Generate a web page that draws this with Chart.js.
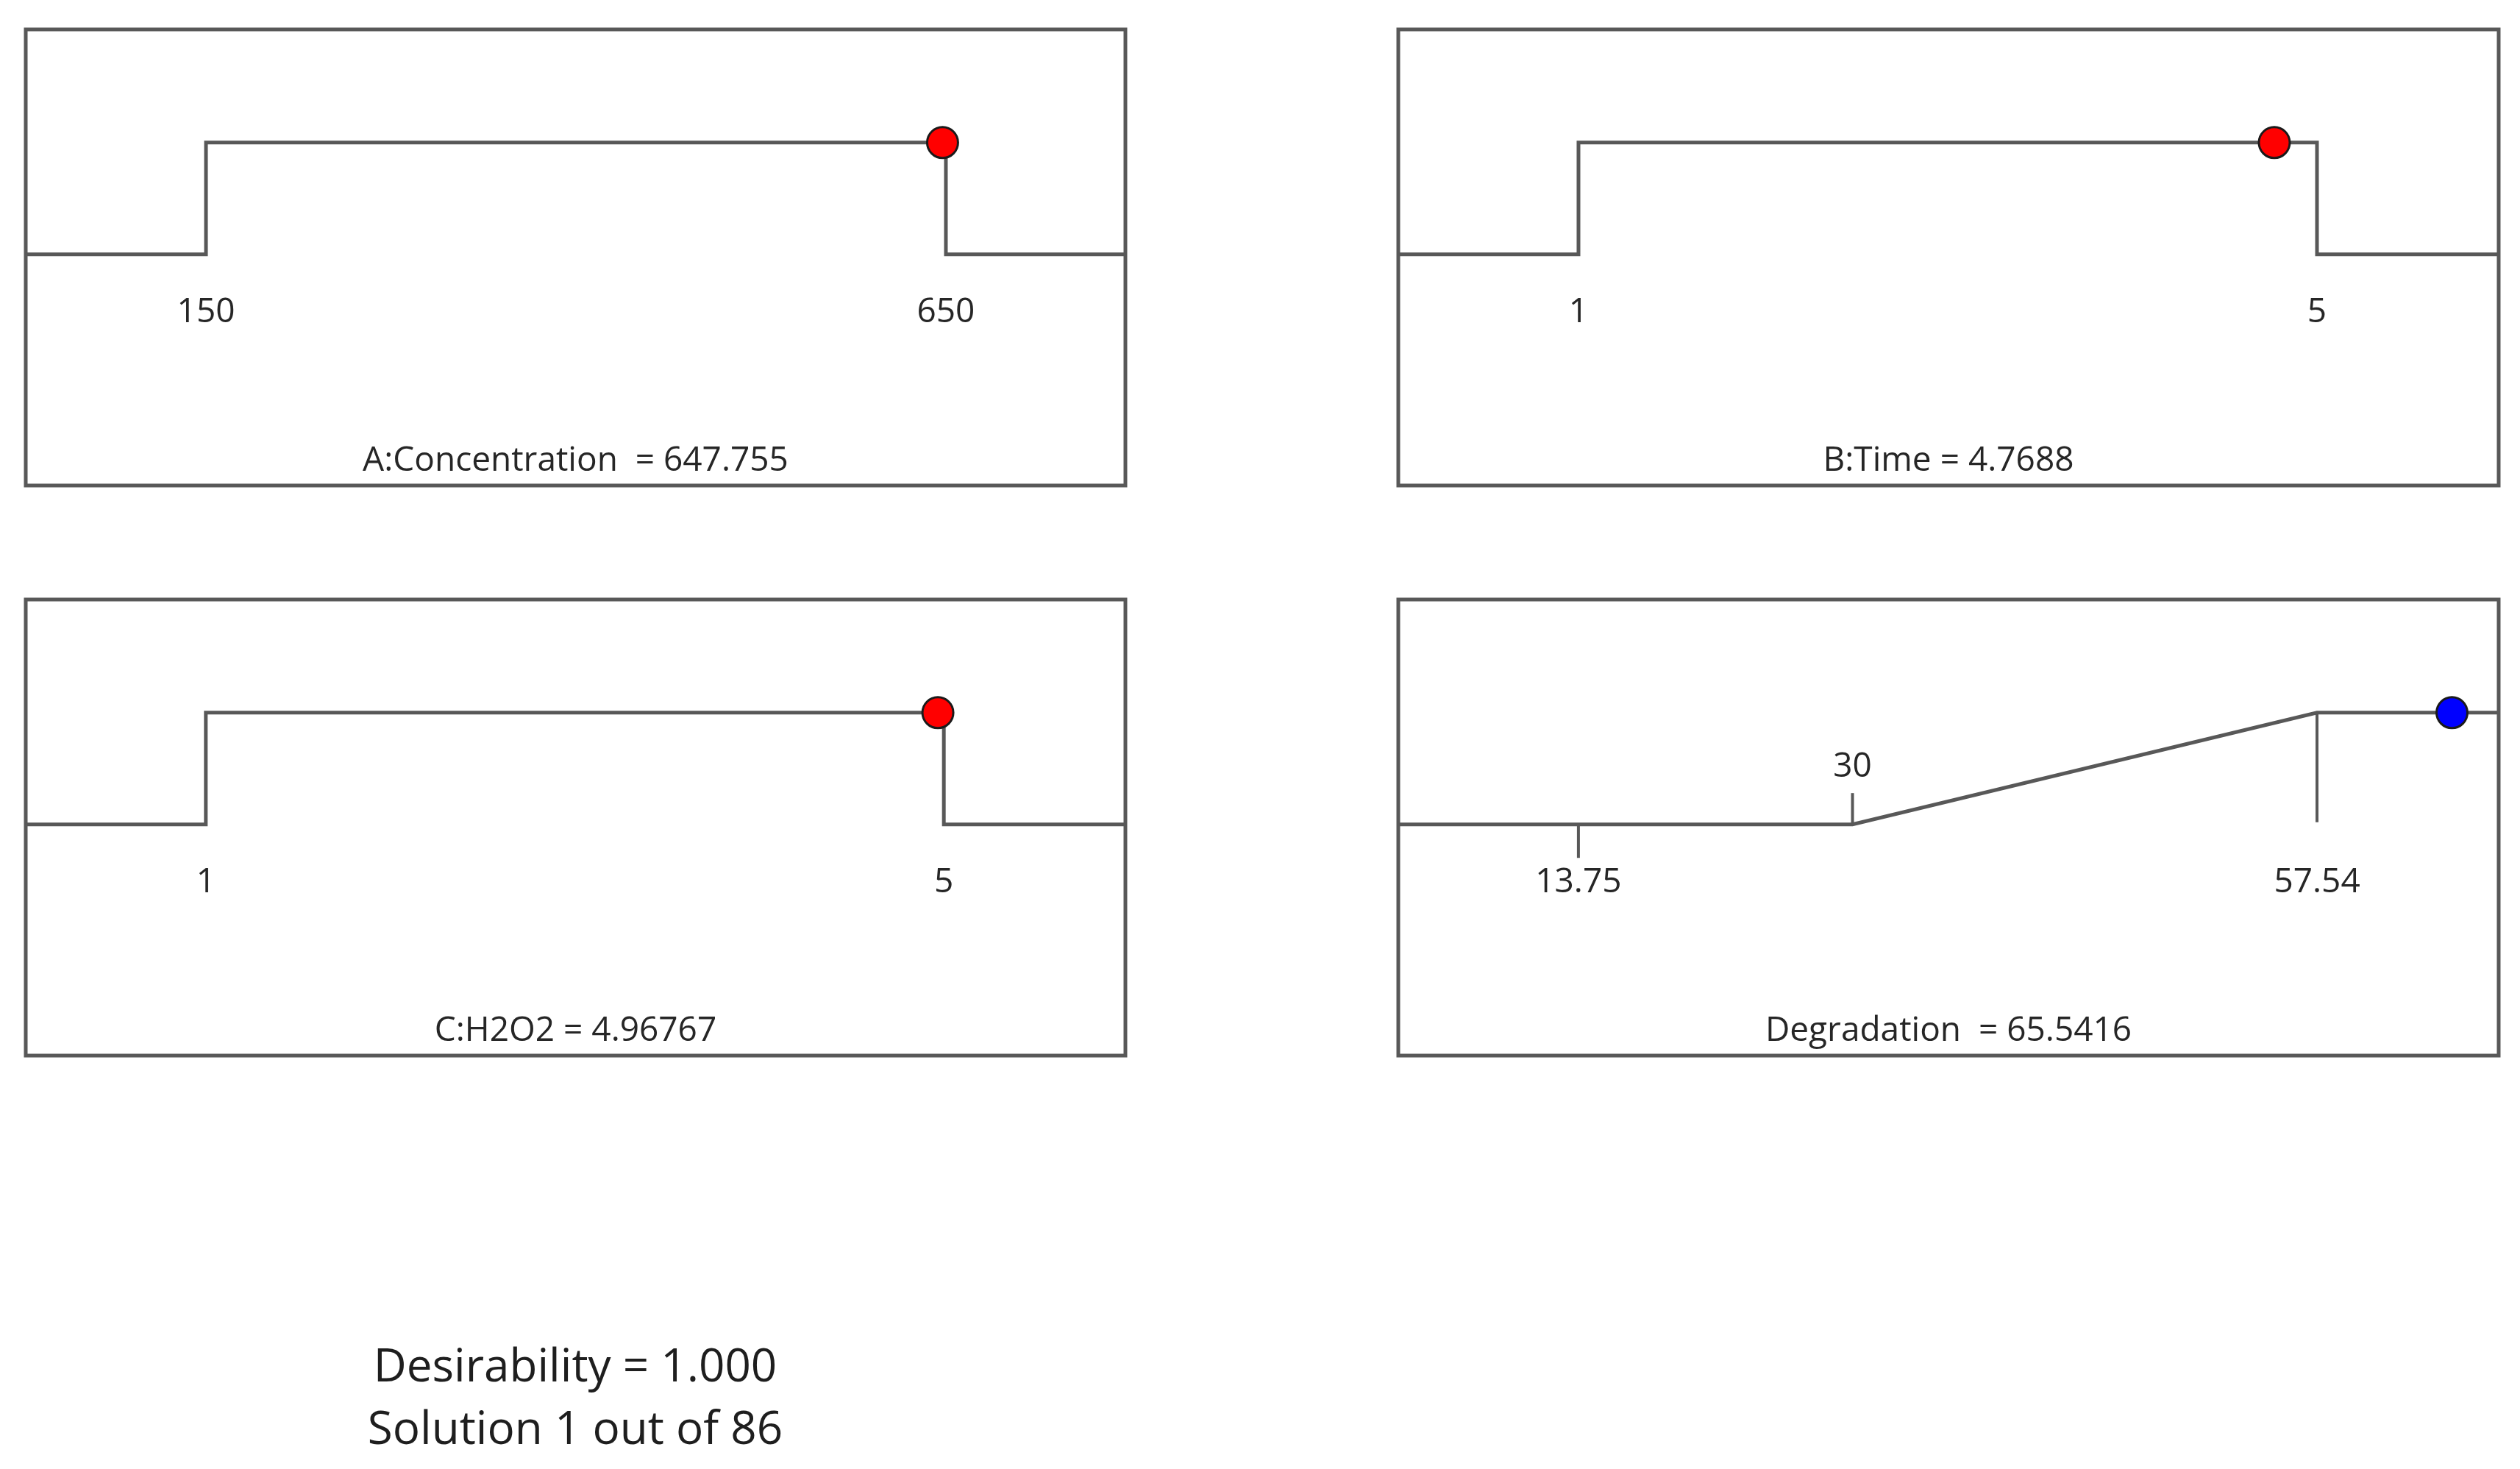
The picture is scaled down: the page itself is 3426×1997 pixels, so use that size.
<!DOCTYPE html>
<html>
<head>
<meta charset="utf-8">
<title>Desirability ramps</title>
<script src="https://cdn.jsdelivr.net/npm/chart.js@4.4.1/dist/chart.umd.min.js"></script>
<style>
    body { margin: 0; background: #ffffff; width: 3426px; height: 1997px; position: relative; overflow: hidden; }
    .panel { position: absolute; }
    .summary {
        position: absolute;
        left: 432px;
        top: 1812px;
        width: 700px;
        text-align: center;
        font-family: "Open Sans", "Noto Sans", sans-serif;
        font-size: 62px;
        line-height: 85px;
        color: #1e1e1e;
    }
</style>
</head>
<body>
<div class="panel" id="panel0"><canvas id="chart0"></canvas></div>
<div class="panel" id="panel1"><canvas id="chart1"></canvas></div>
<div class="panel" id="panel2"><canvas id="chart2"></canvas></div>
<div class="panel" id="panel3"><canvas id="chart3"></canvas></div>
<div class="summary" id="summary"></div>

<script>
// ---- data ----
var panelTitles = ['A:Concentration  = 647.755', 'B:Time = 4.7688', 'C:H2O2 = 4.96767', 'Degradation  = 65.5416'];
var axisMin = [28.2, 0.024, 0.024, 3.07];
var axisMax = [771.3, 5.984, 5.984, 68.31];
var lowLimits = [150, 1, 1, 13.75];
var highLimits = [650, 5, 5, 57.54];
var solutionValues = [647.755, 4.7688, 4.96767, 65.5416];
var solutionDesirability = [1, 1, 1, 1];
var pointColors = ['#ff0000', '#ff0000', '#ff0000', '#0000ff'];

// factor ramps are "in range" boxes: 0 outside, 1 between the limits
var factorCurveY = [0, 0, 1, 1, 0, 0];

// the response (Degradation) is maximised: ramps from the goal up to the high limit
var responseGoal = 30;
var responseCurveY = [0, 0, 1, 1];

// small tick marks on the response panel
var responseTickX = [13.75, 30, 57.54];
var responseTickFrom = [0, 0, 1];
var responseTickTo = [-0.3, 0.28, 0.02];

// tick labels [text, value, height]
var tickLabels = [
    [['150', 150, -0.52], ['650', 650, -0.52]],
    [['1', 1, -0.52], ['5', 5, -0.52]],
    [['1', 1, -0.52], ['5', 5, -0.52]],
    [['13.75', 13.75, -0.52], ['30', 30, 0.51], ['57.54', 57.54, -0.52]]
];
var titleHeight = -1.85;
var yMin = -2.07;
var yMax = 2.013;

var summaryLines = ['Desirability = 1.000', 'Solution 1 out of 86'];

// ---- layout (box edges in page pixels) ----
var boxes = [
    { left: 35, top: 40, right: 1530, bottom: 660 },
    { left: 1901, top: 40, right: 3397, bottom: 660 },
    { left: 35, top: 815, right: 1530, bottom: 1435 },
    { left: 1901, top: 815, right: 3397, bottom: 1435 }
];
var pad = 30;
var lineColor = '#585858';
var textFont = '46px "Open Sans", "Noto Sans", sans-serif';

// draws the frame, the tick labels and the title of each panel
var panelDecor = {
    id: 'panelDecor',
    afterDatasetsDraw: function (chart, args, opts) {
        var ctx = chart.ctx;
        var area = chart.chartArea;
        var xs = chart.scales.x;
        var ys = chart.scales.y;
        ctx.save();
        ctx.strokeStyle = lineColor;
        ctx.lineWidth = 5;
        ctx.strokeRect(area.left, area.top, area.right - area.left, area.bottom - area.top);

        ctx.fillStyle = '#262626';
        ctx.font = textFont;
        ctx.textAlign = 'center';
        ctx.textBaseline = 'middle';
        opts.labels.forEach(function (lab) {
            ctx.fillText(lab[0], xs.getPixelForValue(lab[1]), ys.getPixelForValue(lab[2]));
        });
        ctx.fillText(opts.title, (area.left + area.right) / 2, ys.getPixelForValue(titleHeight));
        ctx.restore();
    }
};

function makePanel(i) {
    var box = boxes[i];
    var holder = document.getElementById('panel' + i);
    holder.style.left = (box.left - pad) + 'px';
    holder.style.top = (box.top - pad) + 'px';
    holder.style.width = (box.right - box.left + 2 * pad) + 'px';
    holder.style.height = (box.bottom - box.top + 2 * pad) + 'px';

    var curve = [];
    if (i < 3) {
        var curveX = [axisMin[i], lowLimits[i], lowLimits[i], highLimits[i], highLimits[i], axisMax[i]];
        for (var k = 0; k < curveX.length; k++) {
            curve.push({ x: curveX[k], y: factorCurveY[k] });
        }
    } else {
        var respX = [axisMin[i], responseGoal, highLimits[i], axisMax[i]];
        for (var k = 0; k < respX.length; k++) {
            curve.push({ x: respX[k], y: responseCurveY[k] });
        }
    }

    var datasets = [];
    // solution point first so it is drawn on top
    datasets.push({
        data: [{ x: solutionValues[i], y: solutionDesirability[i] }],
        pointRadius: 21,
        pointBackgroundColor: pointColors[i],
        pointBorderColor: '#1a1a1a',
        pointBorderWidth: 3,
        showLine: false,
        clip: false
    });
    datasets.push({
        data: curve,
        showLine: true,
        borderColor: lineColor,
        borderWidth: 5,
        pointRadius: 0,
        tension: 0
    });
    if (i == 3) {
        for (var t = 0; t < responseTickX.length; t++) {
            datasets.push({
                data: [{ x: responseTickX[t], y: responseTickFrom[t] }, { x: responseTickX[t], y: responseTickTo[t] }],
                showLine: true,
                borderColor: lineColor,
                borderWidth: 4,
                pointRadius: 0
            });
        }
    }

    new Chart(document.getElementById('chart' + i), {
        type: 'scatter',
        data: { datasets: datasets },
        options: {
            responsive: true,
            maintainAspectRatio: false,
            animation: false,
            layout: { padding: pad },
            plugins: {
                legend: { display: false },
                tooltip: { enabled: false },
                panelDecor: { labels: tickLabels[i], title: panelTitles[i] }
            },
            scales: {
                x: { type: 'linear', min: axisMin[i], max: axisMax[i], display: false },
                y: { type: 'linear', min: yMin, max: yMax, display: false }
            }
        },
        plugins: [panelDecor]
    });
}

for (var p = 0; p < 4; p++) {
    makePanel(p);
}

document.getElementById('summary').innerHTML = summaryLines.join('<br>');
</script>
</body>
</html>
